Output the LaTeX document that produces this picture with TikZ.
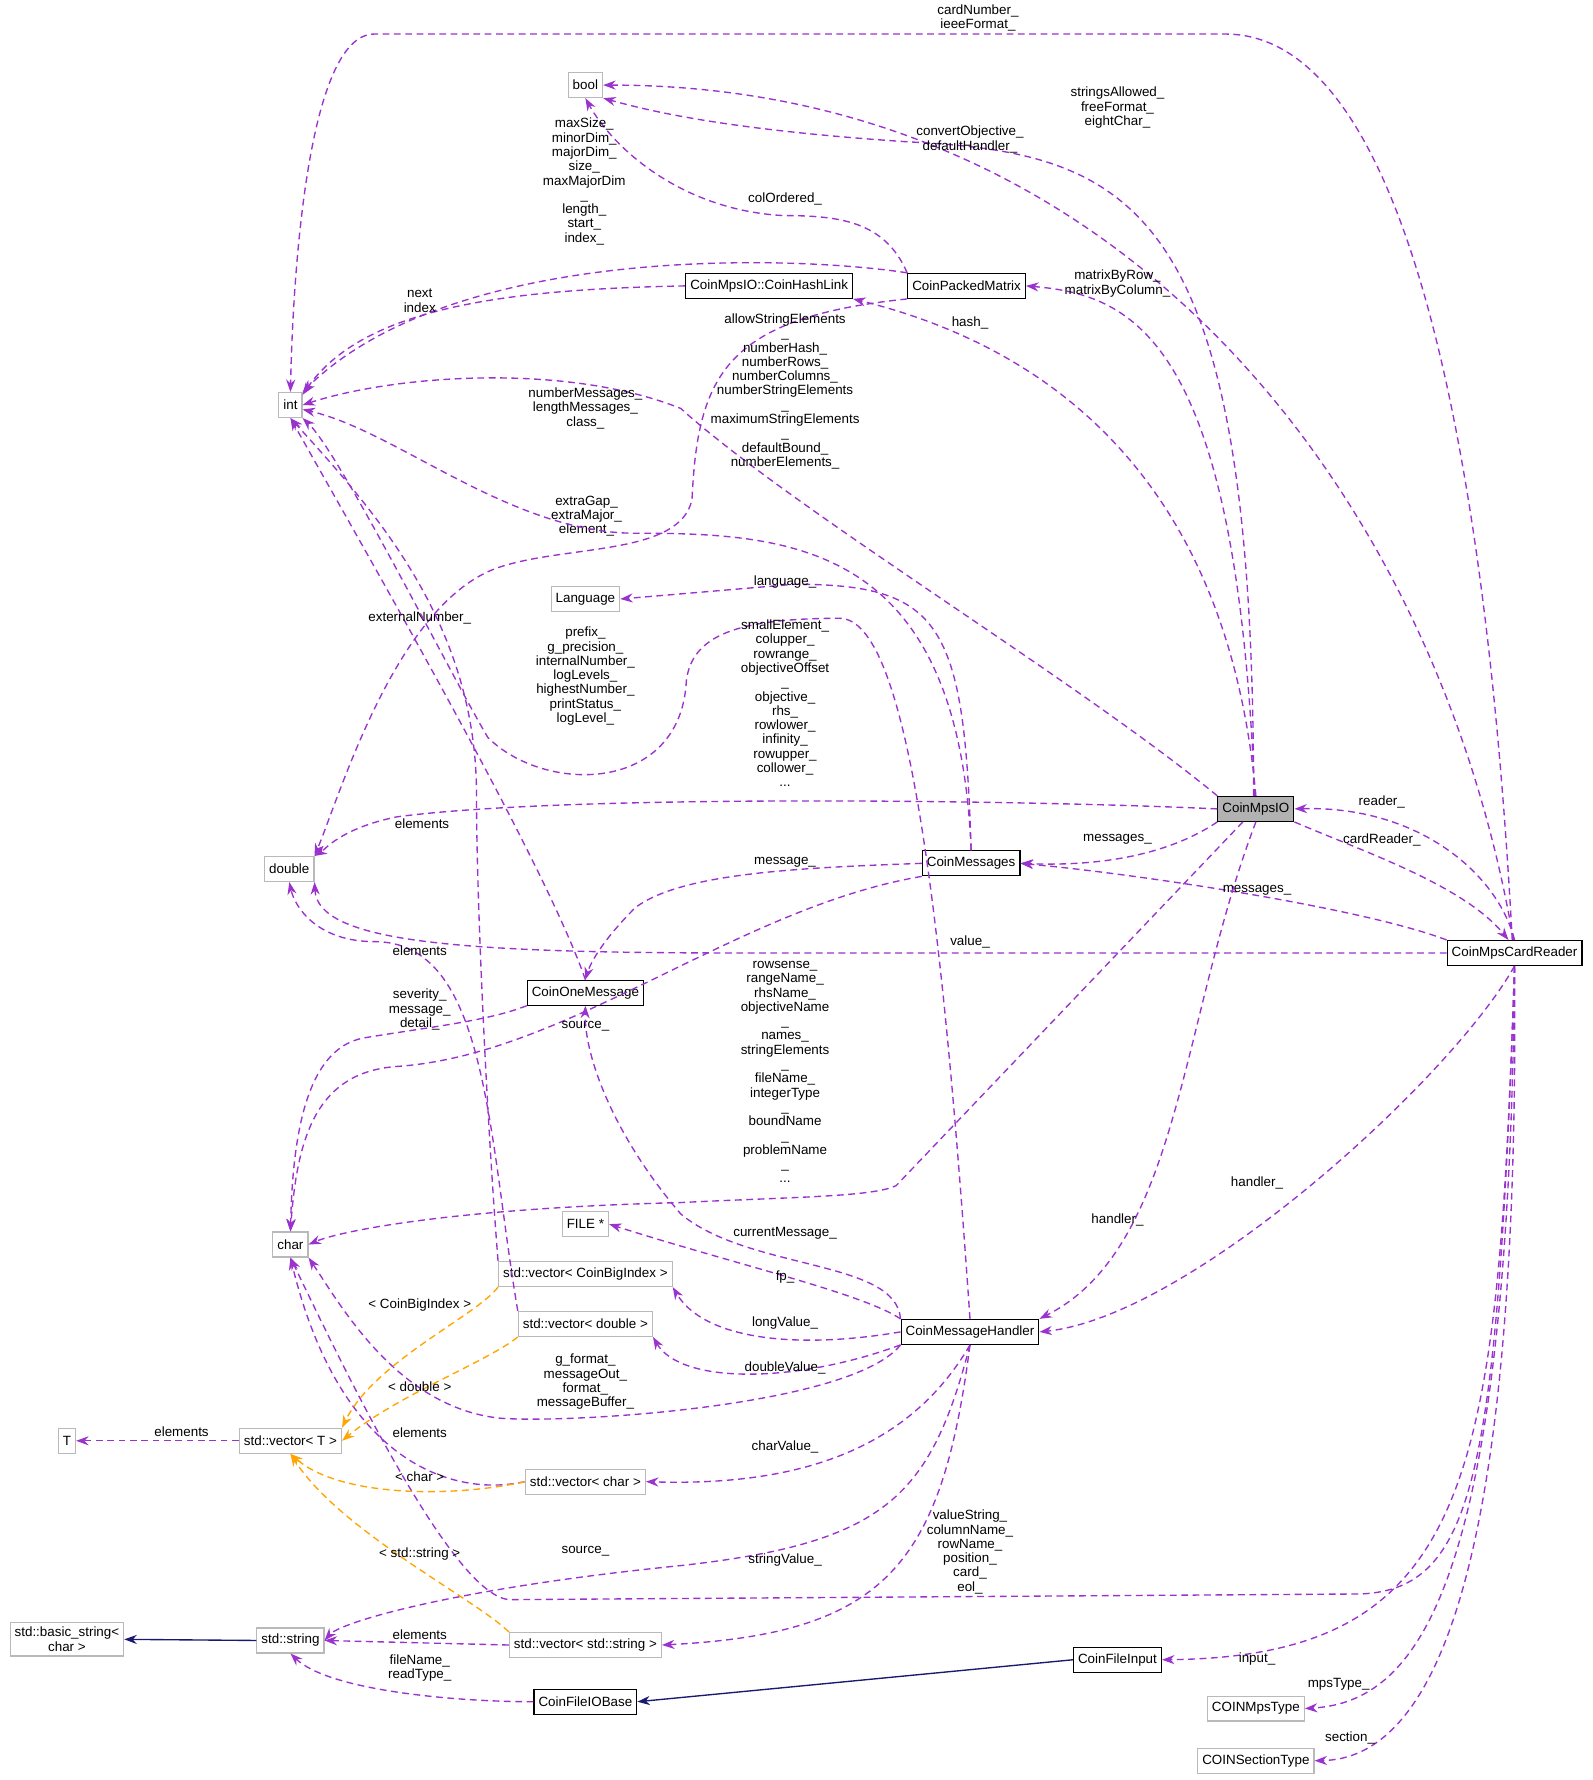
\documentclass[tikz,border=0pt]{standalone}
\usepackage{fontspec}
\setmainfont{Liberation Sans}
\usetikzlibrary{arrows.meta}
\definecolor{dep}{HTML}{9A32CD}
\definecolor{tmpl}{HTML}{FFA500}
\definecolor{inh}{HTML}{191970}
\begin{document}
\begin{tikzpicture}[
    x = 1pt, y = -1pt,
    font = \fontsize{11.8}{12.6}\selectfont,
    cls/.style = {draw = black, line width = 1pt, fill = white, inner sep = 4pt,
      minimum height = 22pt, align = center},
    ext/.style = {cls, draw = gray!55},
    cur/.style = {cls, fill = gray!60},
    lbl/.style = {align = center, inner sep = 0pt},
    use/.style = {dep, line width = 1.2pt, dash pattern = on 6pt off 4pt,
      -{Stealth[length = 11pt, width = 8pt]}},
    tpl/.style = {use, tmpl},
    base/.style = {inh, line width = 1.2pt, -{Stealth[length = 11pt, width = 8pt]}},
    ]
    \useasboundingbox (0, 0) rectangle (1404, 1569);

    % classes
    \node at (516, 75) [ext, name = bool] {bool};
    \node at (256, 357) [ext, name = int] {int};
    \node at (255, 766) [ext, name = double] {double};
    \node at (256, 1097) [ext, name = char] {char};
    \node at (59, 1270) [ext, name = T] {T};
    \node at (59, 1445) [ext, name = basic] {std::basic\_string\textless\\ char \textgreater};
    \node at (256, 1446) [ext, name = string] {std::string};
    \node at (516, 528) [ext, name = lang] {Language};
    \node at (516, 1079) [ext, name = file] {FILE *};
    \node at (516, 1123) [ext, name = vecbig] {std::vector\textless{} CoinBigIndex \textgreater};
    \node at (516, 1167) [ext, name = vecdbl] {std::vector\textless{} double \textgreater};
    \node at (256, 1270) [ext, name = vecT] {std::vector\textless{} T \textgreater};
    \node at (516, 1306) [ext, name = vecchar] {std::vector\textless{} char \textgreater};
    \node at (516, 1450) [ext, name = vecstr] {std::vector\textless{} std::string \textgreater};
    \node at (516, 1500) [cls, name = fileio] {CoinFileIOBase};
    \node at (678, 252) [cls, name = hash] {CoinMpsIO::CoinHashLink};
    \node at (852, 252) [cls, name = packed] {CoinPackedMatrix};
    \node at (516, 875) [cls, name = onemsg] {CoinOneMessage};
    \node at (856, 761) [cls, name = msgs] {CoinMessages};
    \node at (855, 1174) [cls, name = handler] {CoinMessageHandler};
    \node at (1107, 713) [cur, name = mpsio] {CoinMpsIO};
    \node at (1335, 840) [cls, name = reader] {CoinMpsCardReader};
    \node at (985, 1463) [cls, name = input] {CoinFileInput};
    \node at (1107, 1506) [ext, name = mpstype] {COINMpsType};
    \node at (1107, 1552) [ext, name = section] {COINSectionType};

    % members
    \draw [use] (reader.100) .. controls (1310, 400) and (1240, 30) .. (1080, 30)
      -- (330, 30) .. controls (270, 30) and (258, 250) .. (int.north);
    \node at (862, 16) [lbl, name = l1] {cardNumber\_\\ieeeFormat\_};
    \draw [use] (reader.95) .. controls (1270, 450) and (1000, 75) .. (bool.east);
    \node at (985, 95) [lbl, name = l2] {stringsAllowed\_\\freeFormat\_\\eightChar\_};
    \draw [use] (mpsio.100) .. controls (1105, 180) and (1000, 135) .. (800, 125)
      .. controls (650, 115) and (580, 100) .. (bool.south east);
    \node at (855, 123) [lbl, name = l3] {convertObjective\_\\defaultHandler\_};
    \draw [use] (packed.north west) .. controls (780, 195) and (740, 190) .. (690, 190)
      .. controls (600, 185) and (540, 130) .. (bool.south);
    \node at (692, 175) [lbl, name = l4] {colOrdered\_};
    \draw [use] (packed.north west) .. controls (700, 225) and (400, 215) .. (int.north east);
    \node at (515, 160) [lbl, name = l5] {maxSize\_\\minorDim\_\\majorDim\_\\size\_\\maxMajorDim\\\_\\length\_\\start\_\\index\_};
    \draw [use] (hash.west) .. controls (450, 255) and (320, 270) .. (int.40);
    \node at (370, 265) [lbl, name = l6] {next\\index};
    \draw [use] (packed.south west) .. controls (640, 280) and (615, 330) .. (610, 440)
      .. controls (600, 490) and (500, 480) .. (440, 500)
      .. controls (350, 530) and (300, 700) .. (double.north east);
    \node at (517, 455) [lbl, name = l7] {extraGap\_\\extraMajor\_\\element\_};
    \draw [use] (mpsio.95) .. controls (1090, 300) and (1000, 260) .. (packed.east);
    \node at (985, 250) [lbl, name = l8] {matrixByRow\_\\matrixByColumn\_};
    \draw [use] (mpsio.north) .. controls (1080, 400) and (900, 300) .. (hash.south east);
    \node at (855, 285) [lbl, name = l9] {hash\_};
    \draw [use] (mpsio.north west) .. controls (950, 600) and (700, 450) .. (600, 360)
      .. controls (500, 320) and (350, 330) .. (int.east);
    \node at (692, 345) [lbl, name = l10] {allowStringElements\\\_\\numberHash\_\\numberRows\_\\numberColumns\_\\numberStringElements\\\_\\maximumStringElements\\\_\\defaultBound\_\\numberElements\_};
    \draw [use] (msgs.north) .. controls (845, 480) and (700, 470) .. (560, 470)
      .. controls (450, 470) and (350, 380) .. (int.-20);
    \node at (516, 360) [lbl, name = l11] {numberMessages\_\\lengthMessages\_\\class\_};
    \draw [use] (msgs.north) .. controls (850, 550) and (830, 515) .. (700, 515)
      -- (lang.east);
    \node at (692, 513) [lbl, name = l12] {language\_};
    \draw [use] (onemsg.north) .. controls (480, 760) and (330, 500) .. (int.south);
    \node at (370, 545) [lbl, name = l13] {externalNumber\_};
    \draw [use] (handler.north) .. controls (830, 800) and (800, 545) .. (740, 545)
      .. controls (650, 545) and (610, 560) .. (605, 600)
      .. controls (600, 700) and (480, 700) .. (430, 650)
      .. controls (400, 600) and (300, 400) .. (int.south east);
    \node at (516, 596) [lbl, name = l14] {prefix\_\\g\_precision\_\\internalNumber\_\\logLevels\_\\highestNumber\_\\printStatus\_\\logLevel\_};
    \draw [use] (mpsio.west) .. controls (900, 705) and (500, 700) .. (350, 720)
      .. controls (300, 730) and (285, 750) .. (double.north east);
    \node at (692, 620) [lbl, name = l15] {smallElement\_\\colupper\_\\rowrange\_\\objectiveOffset\\\_\\objective\_\\rhs\_\\rowlower\_\\infinity\_\\rowupper\_\\collower\_\\...};
    \draw [use] (vecbig.north west) .. controls (430, 1000) and (420, 800) .. (420, 700)
      .. controls (420, 550) and (330, 450) .. (int.south);
    \node at (372, 726) [lbl, name = l16] {elements};
    \draw [use] (vecdbl.north west) .. controls (430, 1000) and (430, 830) .. (330, 830)
      .. controls (280, 830) and (260, 800) .. (double.south);
    \node at (370, 838) [lbl, name = l17] {elements};
    \draw [use] (msgs.west) .. controls (700, 765) and (600, 770) .. (560, 800)
      .. controls (530, 830) and (520, 850) .. (onemsg.north);
    \node at (692, 760) [lbl, name = l18] {message\_};
    \draw [use] (mpsio.south west) .. controls (1050, 740) and (1000, 765) .. (msgs.east);
    \node at (985, 740) [lbl, name = l19] {messages\_};
    \draw [use] (reader.north) .. controls (1320, 770) and (1250, 710) .. (mpsio.east);
    \node at (1218, 707) [lbl, name = l20] {reader\_};
    \draw [use] (mpsio.south east) .. controls (1200, 750) and (1290, 780) .. (reader.115);
    \node at (1218, 740) [lbl, name = l21] {cardReader\_};
    \draw [use] (reader.north west) .. controls (1200, 800) and (1000, 770) .. (msgs.east);
    \node at (1108, 785) [lbl, name = l22] {messages\_};
    \draw [use] (reader.west) -- (650, 840) .. controls (400, 840) and (280, 830) .. (double.south east);
    \node at (855, 830) [lbl, name = l23] {value\_};
    \draw [use] (onemsg.south west) .. controls (430, 900) and (380, 905) .. (320, 915)
      .. controls (270, 925) and (258, 1000) .. (char.north);
    \node at (370, 890) [lbl, name = l24] {severity\_\\message\_\\detail\_};
    \draw [use] (msgs.south west) .. controls (650, 800) and (500, 930) .. (350, 940)
      .. controls (280, 945) and (262, 1000) .. (char.north);
    \node at (516, 905) [lbl, name = l25] {source\_};
    \draw [use] (mpsio.225) -- (790, 1045) .. controls (770, 1055) and (700, 1055) .. (600, 1060)
      .. controls (400, 1065) and (300, 1085) .. (char.east);
    \node at (692, 945) [lbl, name = l26] {rowsense\_\\rangeName\_\\rhsName\_\\objectiveName\\\_\\names\_\\stringElements\\\_\\fileName\_\\integerType\\\_\\boundName\\\_\\problemName\\\_\\...};
    \draw [use] (mpsio.south) .. controls (1040, 900) and (1040, 1100) .. (handler.north east);
    \node at (985, 1075) [lbl, name = l27] {handler\_};
    \draw [use] (reader.south) .. controls (1280, 950) and (1050, 1160) .. (handler.east);
    \node at (1108, 1043) [lbl, name = l28] {handler\_};
    \draw [use] (handler.north west) .. controls (790, 1110) and (660, 1120) .. (600, 1070)
      .. controls (540, 1000) and (515, 930) .. (onemsg.south);
    \node at (692, 1087) [lbl, name = l29] {currentMessage\_};
    \draw [use] (handler.north west) .. controls (760, 1140) and (650, 1115) .. (file.east);
    \node at (692, 1126) [lbl, name = l30] {fp\_};
    \draw [use] (handler.west) .. controls (700, 1190) and (620, 1180) .. (vecbig.south east);
    \node at (692, 1166) [lbl, name = l31] {longValue\_};
    \draw [use] (handler.south west) .. controls (700, 1220) and (600, 1220) .. (vecdbl.south east);
    \node at (692, 1206) [lbl, name = l32] {doubleValue\_};
    \draw [use] (handler.south west) .. controls (750, 1240) and (500, 1255) .. (440, 1250)
      .. controls (350, 1240) and (300, 1150) .. (char.south east);
    \node at (516, 1218) [lbl, name = l33] {g\_format\_\\messageOut\_\\format\_\\messageBuffer\_};
    \draw [use] (handler.south) .. controls (800, 1280) and (700, 1310) .. (vecchar.east);
    \node at (692, 1275) [lbl, name = l34] {charValue\_};
    \draw [use] (handler.south) .. controls (820, 1320) and (780, 1360) .. (600, 1380)
      .. controls (400, 1400) and (300, 1430) .. (string.east);
    \node at (516, 1367) [lbl, name = l35] {source\_};
    \draw [use] (handler.south) .. controls (830, 1380) and (780, 1440) .. (vecstr.east);
    \node at (692, 1375) [lbl, name = l36] {stringValue\_};
    \draw [use] (reader.south) .. controls (1320, 1300) and (1300, 1400) .. (1200, 1405)
      -- (450, 1410) .. controls (400, 1410) and (300, 1200) .. (char.south);
    \node at (855, 1368) [lbl, name = l37] {valueString\_\\columnName\_\\rowName\_\\position\_\\card\_\\eol\_};
    \draw [use] (vecchar.west) .. controls (400, 1320) and (300, 1290) .. (char.south);
    \node at (370, 1263) [lbl, name = l38] {elements};
    \draw [use] (vecT.west) -- (T.east);
    \node at (160, 1262) [lbl, name = l39] {elements};
    \draw [use] (vecstr.west) -- (string.east);
    \node at (370, 1441) [lbl, name = l44] {elements};
    \draw [use] (fileio.west) .. controls (400, 1500) and (290, 1490) .. (string.south);
    \node at (370, 1470) [lbl, name = l45] {fileName\_\\readType\_};
    \draw [use] (reader.south) .. controls (1320, 1300) and (1300, 1460) .. (input.east);
    \node at (1108, 1462) [lbl, name = l48] {input\_};
    \draw [use] (reader.south) .. controls (1330, 1400) and (1250, 1500) .. (mpstype.east);
    \node at (1180, 1485) [lbl, name = l49] {mpsType\_};
    \draw [use] (reader.south) .. controls (1340, 1400) and (1260, 1550) .. (section.east);
    \node at (1190, 1532) [lbl, name = l50] {section\_};

    % template instances
    \draw [tpl] (vecbig.south west) .. controls (420, 1160) and (330, 1200) .. (vecT.north east);
    \node at (370, 1150) [lbl, name = t1] {\textless{} CoinBigIndex \textgreater};
    \draw [tpl] (vecdbl.south west) .. controls (430, 1200) and (350, 1230) .. (vecT.east);
    \node at (370, 1222) [lbl, name = t2] {\textless{} double \textgreater};
    \draw [tpl] (vecchar.west) .. controls (400, 1320) and (300, 1320) .. (vecT.south);
    \node at (370, 1302) [lbl, name = t3] {\textless{} char \textgreater};
    \draw [tpl] (vecstr.north west) .. controls (420, 1410) and (300, 1350) .. (vecT.south);
    \node at (370, 1370) [lbl, name = t4] {\textless{} std::string \textgreater};

    % inheritance
    \draw [base] (string.west) -- (basic.east);
    \draw [base] (input.west) -- (fileio.east);
  \end{tikzpicture}
\end{document}
